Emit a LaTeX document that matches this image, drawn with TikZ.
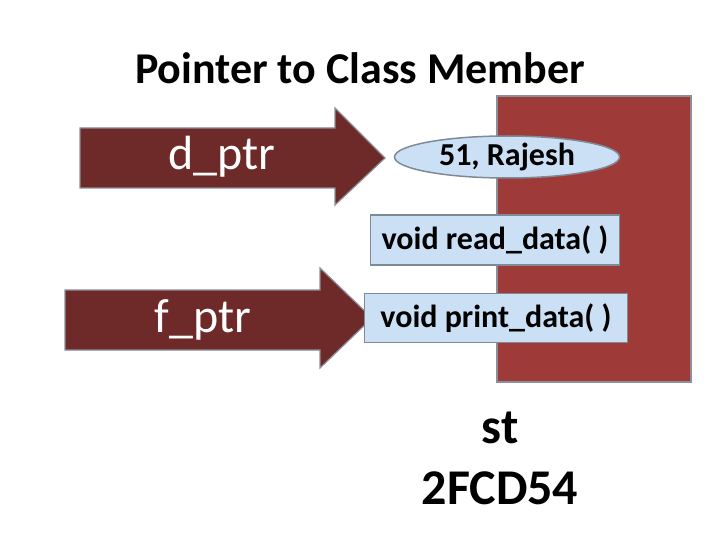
\documentclass[tikz,border=0pt]{standalone}
\usepackage{fontspec}
\setmainfont{Carlito}
\usetikzlibrary{shapes.geometric}
\begin{document}
\begin{tikzpicture}[x=1pt,y=-1pt,
  arr/.style={fill=arrowred,draw=arrowedge,line width=1.2pt},
  box/.style={fill=boxblue,draw=boxedge,line width=1.5pt,inner sep=0pt,font=\bfseries\fontsize{32}{36}\selectfont},
  big/.style={font=\fontsize{48}{54}\selectfont}]
\definecolor{arrowred}{HTML}{6E2A28}
\definecolor{arrowedge}{HTML}{8A8F99}
\definecolor{memred}{HTML}{9E3B38}
\definecolor{boxblue}{HTML}{CCE0F5}
\definecolor{boxedge}{HTML}{7F8A96}
\useasboundingbox (0,0) rectangle (720,540);
\node[font=\bfseries\fontsize{44}{50}\selectfont] (title) at (360,68) {Pointer to Class Member};
\draw[fill=memred,draw=arrowedge,line width=1.5pt] (497,96) rectangle (691,382);
\draw[arr] (80,128) -- (335,128) -- (335,108) -- (385,158) -- (335,205) -- (335,188) -- (80,188) -- cycle;
\draw[arr] (65,290) -- (320,290) -- (320,268) -- (372,318) -- (320,368) -- (320,350) -- (65,350) -- cycle;
\node[big,white] (d) at (222,157) {d\_ptr};
\node[big,white] (f) at (203,320) {f\_ptr};
\node[box,ellipse,minimum width=225pt,minimum height=42pt] (e) at (507,157) {51, Rajesh};
\node[box,rectangle,minimum width=249pt,minimum height=50pt] (r) at (495,240) {void read\_data( )};
\node[box,rectangle,minimum width=263pt,minimum height=49pt] (p) at (496,318) {void print\_data( )};
\node[font=\bfseries\fontsize{50}{56}\selectfont] (st) at (500,428) {st};
\node[font=\bfseries\fontsize{50}{56}\selectfont] (addr) at (500,488) {2FCD54};
\end{tikzpicture}
\end{document}
